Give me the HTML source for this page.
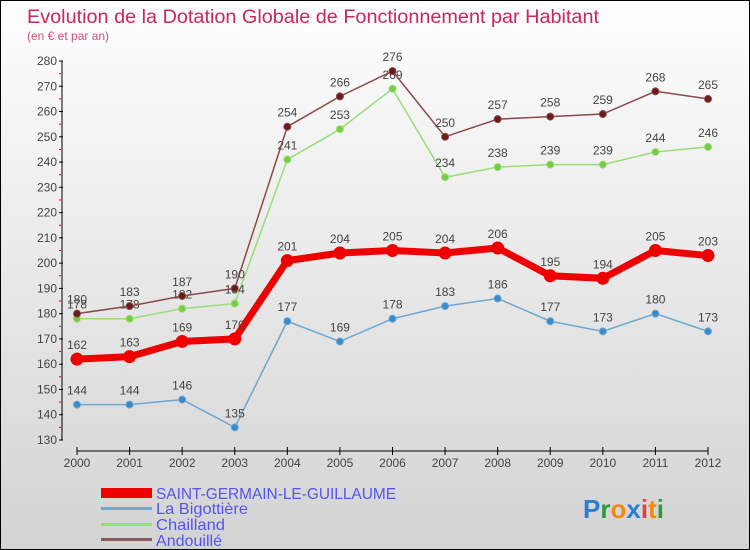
<!DOCTYPE html>
<html><head><meta charset="utf-8"><style>
body{margin:0}
#c{width:748px;height:548px;border:1px solid #000;background:linear-gradient(#fefefe,#d3d3d3);position:relative;overflow:hidden;font-family:"Liberation Sans",sans-serif}
text{font-family:"Liberation Sans",sans-serif}
</style></head><body>
<div id="c">
<svg id="s" width="748" height="548">
<text x="26" y="22" font-size="19" fill="#c8285a" textLength="572" lengthAdjust="spacingAndGlyphs">Evolution de la Dotation Globale de Fonctionnement par Habitant</text>
<text x="26" y="39" font-size="12" fill="#d0507a">(en € et par an)</text>
<g id="axes"></g><g id="series"></g>
<g>
<rect x="100" y="487" width="51" height="10" fill="#e00"/>
<text x="155" y="498" font-size="16" fill="#5555ee" textLength="240" lengthAdjust="spacingAndGlyphs">SAINT-GERMAIN-LE-GUILLAUME</text>
<rect x="100" y="506" width="51" height="3" fill="#6fa8d0"/>
<text x="155" y="513" font-size="16" fill="#5555ee" textLength="92" lengthAdjust="spacingAndGlyphs">La Bigottière</text>
<rect x="100" y="522" width="51" height="3" fill="#99dd77"/>
<text x="155" y="529" font-size="16" fill="#5555ee" textLength="69" lengthAdjust="spacingAndGlyphs">Chailland</text>
<rect x="100" y="537" width="51" height="3" fill="#8a5a5a"/>
<text x="155" y="545" font-size="16" fill="#5555ee" textLength="66" lengthAdjust="spacingAndGlyphs">Andouillé</text>
</g>
<text x="582" y="517" font-size="26" font-weight="bold"><tspan fill="#2a7fd0">P</tspan><tspan fill="#2a9a3a">r</tspan><tspan fill="#f08a10">o</tspan><tspan fill="#2a7fd0">x</tspan><tspan fill="#e04040">i</tspan><tspan fill="#f08a10">t</tspan><tspan fill="#2a9a3a">i</tspan></text>
</svg></div>
<script>
const years=[2000,2001,2002,2003,2004,2005,2006,2007,2008,2009,2010,2011,2012];
const yTicks=[130,140,150,160,170,180,190,200,210,220,230,240,250,260,270,280];
const saintGermain=[162,163,169,170,201,204,205,204,206,195,194,205,203];
const laBigottiere=[144,144,146,135,177,169,178,183,186,177,173,180,173];
const chailland=[178,178,182,184,241,253,269,234,238,239,239,244,246];
const andouille=[180,183,187,190,254,266,276,250,257,258,259,268,265];
const NS="http://www.w3.org/2000/svg";
function X(i){return 76+i*(707-76)/12;}
function Y(v){return 439-(v-130)*(439-60)/150;}
function mk(t,a,p){const e=document.createElementNS(NS,t);for(const k in a)e.setAttribute(k,a[k]);p.appendChild(e);return e;}
const ax=document.getElementById('axes');
let l=mk('line',{x1:61,y1:60,x2:61,y2:439,stroke:'#000','stroke-width':1},ax);


yTicks.forEach(v=>{
 mk('line',{x1:58,y1:Y(v),x2:62,y2:Y(v),stroke:'#000'},ax);
 if(v<280)mk('line',{x1:58,y1:Y(v+5),x2:60,y2:Y(v+5),stroke:'#e00'},ax);
 const t=mk('text',{x:56,y:Y(v)+4,'font-size':12,fill:'#444','text-anchor':'end'},ax);t.textContent=v;
 
 
});
l=mk('line',{x1:76,y1:450,x2:707,y2:450,stroke:'#000'},ax);


years.forEach((y,i)=>{
 mk('line',{x1:X(i),y1:446,x2:X(i),y2:454,stroke:'#000'},ax);
 const t=mk('text',{x:X(i),y:466,'font-size':12,fill:'#444','text-anchor':'middle'},ax);t.textContent=y;
 
 
});
const sg=document.getElementById('series');
function series(d,name,col,dot,w,r){
 const g=mk('g',{},sg);
 
 
 mk('polyline',{points:d.map((v,i)=>X(i)+','+Y(v)).join(' '),fill:'none',stroke:col,'stroke-width':w},g);
 d.forEach((v,i)=>{
  const c=mk('circle',{cx:X(i),cy:Y(v),r:r,fill:dot,stroke:col,'stroke-width':1},g);
  
  
  const t=mk('text',{x:X(i),y:Y(v)-10,'font-size':12,fill:'#444','text-anchor':'middle'},g);t.textContent=v;
  
  
 });
}
series(laBigottiere,'la-bigottiere-series','#6fa8d0','#3a8ac8',1.5,3.5);
series(chailland,'chailland-series','#99dd77','#77cc44',1.5,3.5);
series(andouille,'andouille-series','#8a4a4a','#6a1a1a',1.5,3.5);
series(saintGermain,'saint-germain-series','#ee0000','#ee0000',7,6);
</script>
</body></html>
